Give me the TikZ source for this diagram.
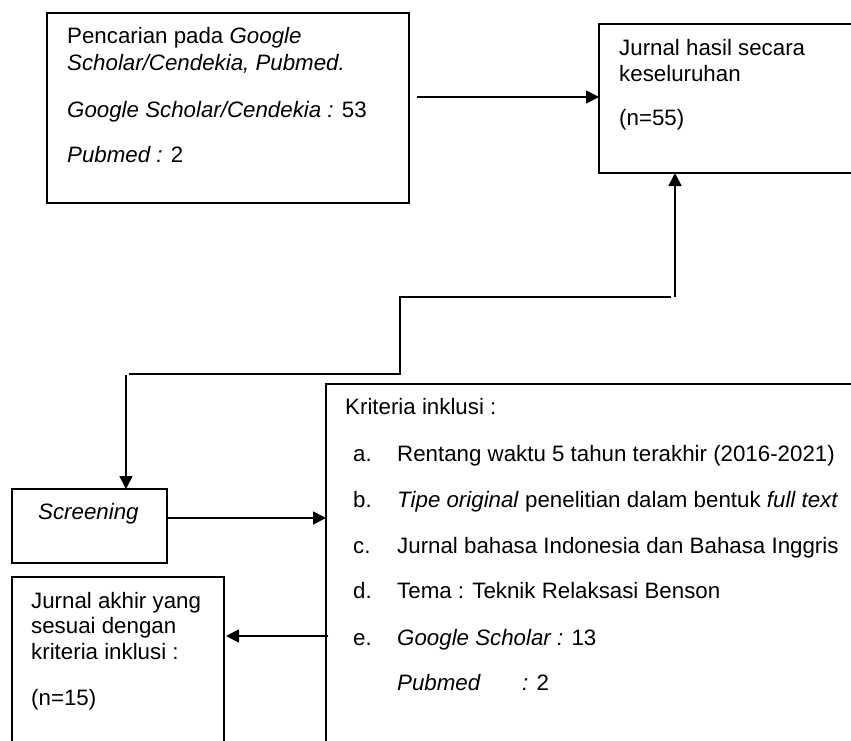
\documentclass[tikz,border=0pt]{standalone}
\usepackage{fontspec}
\setmainfont{Liberation Sans}
\usetikzlibrary{arrows.meta,calc}
\begin{document}
\begin{tikzpicture}[x=1pt,y=-1pt,
  boxst/.style={draw,line width=1.7pt,rectangle,inner sep=0pt,outer sep=0pt,anchor=north west},
  txt/.style={anchor=base west,inner sep=0pt,font=\fontsize{22.3}{27}\selectfont},
  ln/.style={line width=1.7pt},
  arr/.style={line width=1.7pt,-{Triangle[length=13pt,width=13pt]}}]
\useasboundingbox (0,0) rectangle (851,740);
\clip (0,0) rectangle (851,740);
% boxes
\node[boxst,minimum width=362pt,minimum height=190pt] (b1) at (47,13) {};
\node[boxst,minimum width=320pt,minimum height=149pt] (b2) at (599,24) {};
\node[boxst,minimum width=155pt,minimum height=74pt] (scr) at (12,489) {};
\node[boxst,minimum width=212pt,minimum height=240pt] (fin) at (12,577) {};
\node[boxst,minimum width=560pt,minimum height=420pt] (crit) at (326,384) {};
% texts box1
\node[txt] (t11) at (67,43) {Pencarian pada \textit{Google}};
\node[txt] (t12) at (67,70) {\textit{Scholar/Cendekia, Pubmed.}};
\node[txt] (t13) at (67,117) {\textit{Google Scholar/Cendekia :} 53};
\node[txt] (t14) at (67,162) {\textit{Pubmed :} 2};
% box2
\node[txt] (t21) at (619,55) {Jurnal hasil secara};
\node[txt] (t22) at (619,81) {keseluruhan};
\node[txt] (t23) at (619,125) {(n=55)};
% screening
\node[txt] (ts) at (38,519) {\textit{Screening}};
% final
\node[txt] (tf1) at (31,608) {Jurnal akhir yang};
\node[txt] (tf2) at (31,633) {sesuai dengan};
\node[txt] (tf3) at (31,659) {kriteria inklusi :};
\node[txt] (tf4) at (31,705) {(n=15)};
% criteria
\node[txt] (tc0) at (345,414) {Kriteria inklusi :};
\node[txt] (la) at (353,461) {a.};
\node[txt] (ia) at (397,461) {Rentang waktu 5 tahun terakhir (2016-2021)};
\node[txt] (lb) at (353,507) {b.};
\node[txt] (ib) at (397,507) {\textit{Tipe original} penelitian dalam bentuk \textit{full text}};
\node[txt] (lc) at (353,553) {c.};
\node[txt] (ic) at (397,553) {Jurnal bahasa Indonesia dan Bahasa Inggris};
\node[txt] (ld) at (353,598) {d.};
\node[txt] (id) at (397,598) {Tema : Teknik Relaksasi Benson};
\node[txt] (le) at (353,645) {e.};
\node[txt] (ie) at (397,645) {\textit{Google Scholar :} 13};
\node[txt] (ip) at (397,690) {\textit{Pubmed}};
\node[txt] (ip2) at (522,690) {\textit{:} 2};
% connectors
\coordinate (a1) at (417,97);
\draw[arr] (a1) -- (a1 -| b2.west);
\coordinate (j1) at (400,297);
\coordinate (j2) at (400,374);
\coordinate (v1) at (675,297);
\coordinate (h1) at (129,374);
\coordinate (v2) at (126,375);
\draw[ln] (h1) -- (j2) -- (j1) -- (671,297);
\draw[arr] (v1) -- (v1 |- b2.south);
\draw[arr] (v2) -- (v2 |- scr.north);
\coordinate (a3) at (167,518);
\draw[arr] (a3 -| scr.east) -- (a3 -| crit.west);
\coordinate (a4) at (328,636);
\draw[arr] (a4) -- ([xshift=2pt]a4 -| fin.east);
\end{tikzpicture}
\end{document}
